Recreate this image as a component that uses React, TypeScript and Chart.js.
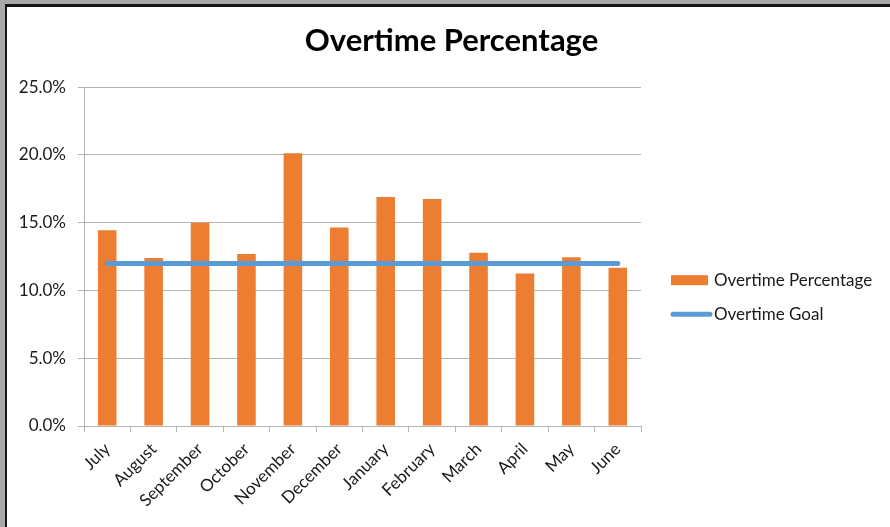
import React, { useEffect, useRef } from "react";
import { Chart, registerables } from "chart.js";

Chart.register(...registerables);

const months = ["July", "August", "September", "October", "November", "December", "January", "February", "March", "April", "May", "June"];
const overtimePct = [14.45, 12.4, 15.0, 12.7, 20.13, 14.65, 16.9, 16.75, 12.78, 11.26, 12.46, 11.67];
const overtimeGoal = [12, 12, 12, 12, 12, 12, 12, 12, 12, 12, 12, 12];
const yMin = 0;
const yMax = 25;
const yStep = 5;

const FONT = "Lato, 'Open Sans', sans-serif";
const ORANGE = "#ed7d31";
const BLUE = "#5b9bd5";
const GRID = "#b4b4b4";
const TEXT = "#1a1a1a";

const legendPlugin = {
  id: "customLegend",
  afterDraw(chart: any) {
    const ctx = chart.ctx;
    const area = chart.chartArea;
    const x0 = area.right + 30;
    const rows = [area.top + 193, area.top + 227];
    ctx.save();
    ctx.font = `17px ${FONT}`;
    ctx.textBaseline = "middle";
    ctx.textAlign = "left";
    chart.data.datasets.forEach((ds: any, i: number) => {
      const y = rows[i];
      if (ds.type === "line") {
        ctx.strokeStyle = ds.borderColor;
        ctx.lineWidth = 5;
        ctx.lineCap = "round";
        ctx.beginPath();
        ctx.moveTo(x0 + 2, y);
        ctx.lineTo(x0 + 39, y);
        ctx.stroke();
      } else {
        ctx.fillStyle = ds.backgroundColor;
        ctx.fillRect(x0, y - 5, 37, 10);
      }
      ctx.fillStyle = TEXT;
      ctx.fillText(ds.label, x0 + 43, y);
    });
    ctx.restore();
  },
};

export default function App() {
  const ref = useRef<HTMLCanvasElement | null>(null);

  useEffect(() => {
    if (!ref.current) return;
    const chart = new Chart(ref.current, {
      type: "bar",
      data: {
        labels: months,
        datasets: [
          {
            type: "bar",
            label: "Overtime Percentage",
            data: overtimePct,
            backgroundColor: ORANGE,
            borderWidth: 0,
            barPercentage: 0.4,
            categoryPercentage: 1,
            order: 1,
          },
          {
            type: "line",
            label: "Overtime Goal",
            data: overtimeGoal,
            borderColor: BLUE,
            backgroundColor: BLUE,
            borderWidth: 5,
            borderCapStyle: "round",
            pointRadius: 0,
            pointHoverRadius: 0,
            fill: false,
            order: 0,
          },
        ],
      } as any,
      options: {
        animation: false,
        responsive: true,
        maintainAspectRatio: false,
        layout: { padding: { left: 13, top: 7, right: 0, bottom: 0 } },
        plugins: {
          legend: { display: false },
          tooltip: { enabled: false },
          title: {
            display: true,
            text: "Overtime Percentage",
            color: "#000",
            font: { family: FONT, size: 31, weight: "bold" },
            padding: { top: 15, bottom: 28 },
          },
        },
        scales: {
          x: {
            grid: {
              display: true,
              drawOnChartArea: false,
              drawTicks: true,
              tickLength: 6,
              color: GRID,
              offset: true,
            },
            border: { display: true, color: GRID },
            ticks: {
              minRotation: 45,
              maxRotation: 45,
              autoSkip: false,
              color: TEXT,
              font: { family: FONT, size: 17 },
              padding: 7,
            },
            afterFit: (s: any) => {
              s.height = 101;
            },
          },
          y: {
            min: yMin,
            max: yMax,
            grid: { color: GRID, tickLength: 6, drawTicks: true },
            border: { display: true, color: GRID },
            ticks: {
              stepSize: yStep,
              color: TEXT,
              font: { family: FONT, size: 17 },
              padding: 12,
              callback: (v: any) => Number(v).toFixed(1) + "%",
            },
            afterFit: (s: any) => {
              s.width = 71;
            },
          },
          yRight: {
            axis: "y",
            position: "right",
            display: true,
            grid: { display: false, drawTicks: false },
            border: { display: false },
            ticks: { display: false },
            afterFit: (s: any) => {
              s.width = 249;
            },
          },
        },
      } as any,
      plugins: [legendPlugin],
    });
    return () => chart.destroy();
  }, []);

  return (
    <div style={{ position: "fixed", left: 0, top: 0, width: 890, height: 527, background: "#a8a8a8", overflow: "hidden" }}>
      <div
        style={{
          position: "absolute",
          left: 5,
          top: 4,
          right: 0,
          bottom: 0,
          background: "#fff",
          borderTop: "3px solid #151515",
          borderLeft: "2px solid #151515",
        }}
      />
      <div style={{ position: "absolute", left: 0, top: 0, width: 890, height: 527 }}>
        <canvas ref={ref} />
      </div>
    </div>
  );
}
